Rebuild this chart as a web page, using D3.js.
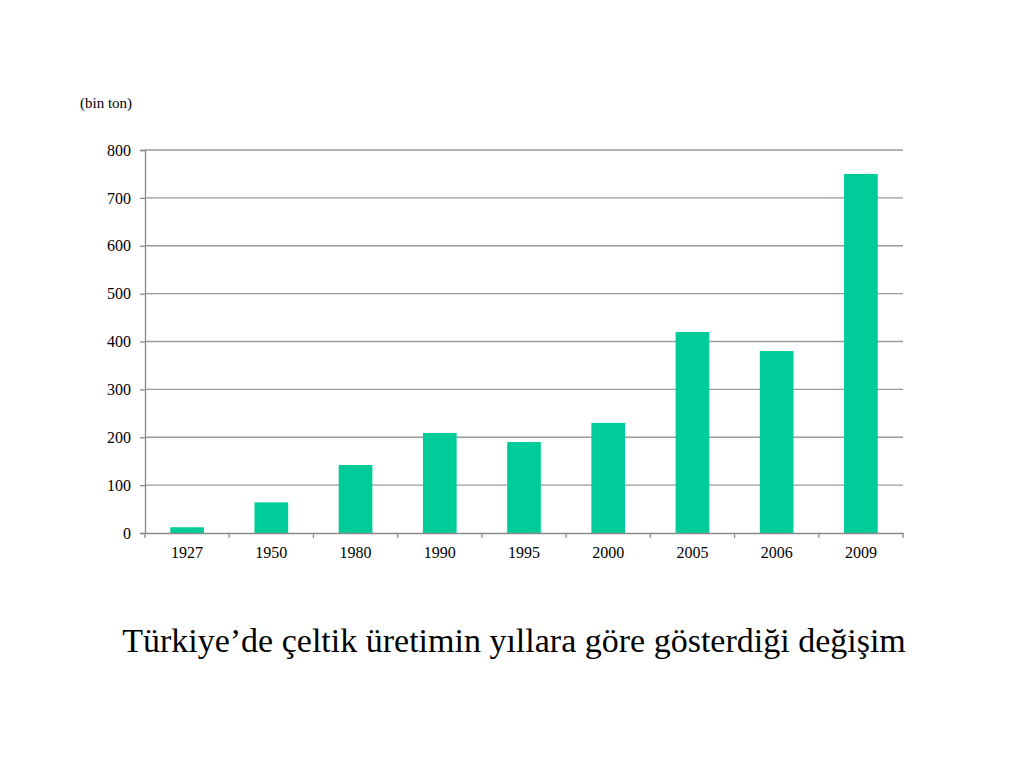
<!DOCTYPE html>
<html><head><meta charset="utf-8">
<script src="https://cdn.jsdelivr.net/npm/d3@7"></script>
<style>body{margin:0;background:#fff}svg{display:block}text{font-family:"Liberation Serif","Times New Roman",serif}</style>
</head><body><svg id="c" width="1024" height="768"></svg>
<script>
const years = ["1927","1950","1980","1990","1995","2000","2005","2006","2009"];
const values = [12, 64, 142, 209, 190, 230, 420, 380, 750];
const yTicks = [0,100,200,300,400,500,600,700,800];
const unitLabel = "(bin ton)";
const title = "Türkiye’de çeltik üretimin yıllara göre gösterdiği değişim";

const svg = d3.select("#c");
const m = {l:145, r:903, t:150, b:533};
const x = d3.scaleBand().domain(years).range([m.l, m.r]).paddingInner(0.6).paddingOuter(0.3);
const xb = d3.scaleBand().domain(years).range([m.l, m.r]);
const y = d3.scaleLinear().domain([0,800]).range([m.b, m.t]);

// gridlines
svg.append("g").selectAll("line").data(yTicks.filter(d=>d>0)).join("line")
  .attr("x1", m.l).attr("x2", m.r).attr("y1", d=>y(d)).attr("y2", d=>y(d))
  .attr("stroke", "#9a9a9a").attr("stroke-width", 1.3);

// bars
svg.append("g").selectAll("rect").data(values).join("rect")
  .attr("x", (d,i)=>x(years[i])).attr("width", x.bandwidth())
  .attr("y", d=>y(d)).attr("height", d=>y(0)-y(d))
  .attr("fill", "#00cc99");

// y axis
const ya = svg.append("g").attr("transform", `translate(${m.l},0)`)
  .call(d3.axisLeft(y).tickValues(yTicks).tickSize(5).tickPadding(9));
ya.select(".domain").attr("stroke", "#8a8a8a").attr("stroke-width", 1.3);
ya.selectAll(".tick line").attr("stroke", "#8a8a8a").attr("stroke-width", 1.3);
ya.selectAll("text").attr("font-size", 16).attr("fill", "#000")
  .attr("font-family", "Liberation Serif, serif");

// x axis
const xa = svg.append("g").attr("transform", `translate(0,${m.b})`)
  .call(d3.axisBottom(xb).tickSize(0).tickPadding(14));
xa.select(".domain").attr("stroke", "#8a8a8a").attr("stroke-width", 1.3);
xa.selectAll("text").attr("font-size", 16).attr("fill", "#000")
  .attr("font-family", "Liberation Serif, serif");
// tick marks at band boundaries
svg.append("g").selectAll("line").data(years.map(d=>xb(d)).concat([m.r])).join("line")
  .attr("x1", d=>d).attr("x2", d=>d).attr("y1", m.b).attr("y2", m.b+5)
  .attr("stroke", "#8a8a8a").attr("stroke-width", 1.3);

svg.append("text").attr("x", 80).attr("y", 108).attr("font-size", 15).text(unitLabel);
svg.append("text").attr("x", 514).attr("y", 652).attr("text-anchor", "middle")
  .attr("font-size", 34).text(title);
</script></body></html>
